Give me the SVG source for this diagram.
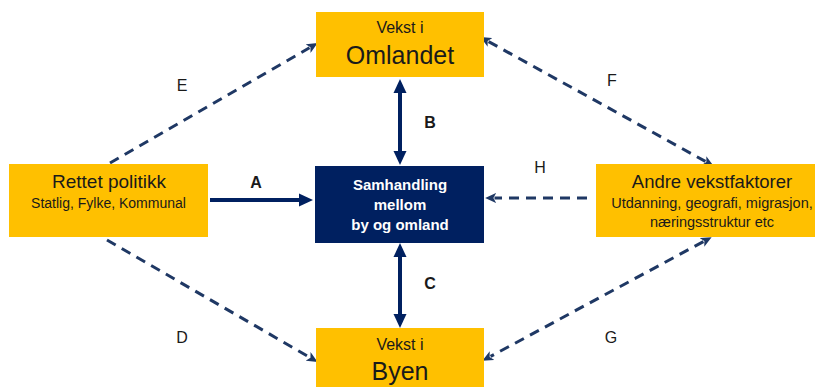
<svg xmlns="http://www.w3.org/2000/svg" width="815" height="387" viewBox="0 0 815 387">
  <style>
    .box { fill: #FFC000; }
    .core { fill: #002060; }
    .t { font-family: "Liberation Sans", Arial, sans-serif; fill: #1a1a1a; text-anchor: middle; }
    .w { font-family: "Liberation Sans", Arial, sans-serif; fill: #ffffff; text-anchor: middle; font-weight: bold; font-size: 15px; }
    .lbl { font-family: "Liberation Sans", Arial, sans-serif; fill: #1a1a1a; text-anchor: middle; font-size: 16px; }
    .lblb { font-weight: bold; }
    .solid { stroke: #002060; stroke-width: 4; fill: none; }
    .dash { stroke: #1F3864; stroke-width: 3; fill: none; stroke-dasharray: 10 7; }
  </style>
  <defs>
    <marker id="headSolid" markerUnits="userSpaceOnUse" markerWidth="14" markerHeight="14" refX="2" refY="6.5" orient="auto-start-reverse" viewBox="0 0 14 13">
      <path d="M0,0 L14,6.5 L0,13 z" fill="#002060"/>
    </marker>
    <marker id="headDash" markerUnits="userSpaceOnUse" markerWidth="11" markerHeight="10" refX="1.5" refY="4.5" orient="auto-start-reverse" viewBox="0 0 10 9">
      <path d="M0,0 L10,4.5 L0,9 L2.5,4.5 z" fill="#1F3864"/>
    </marker>
  </defs>

  <!-- connectors -->
  <g id="connectors">
    <line class="solid" x1="400" y1="91" x2="400" y2="153" marker-start="url(#headSolid)" marker-end="url(#headSolid)"/>
    <line class="solid" x1="400" y1="255" x2="400" y2="316" marker-start="url(#headSolid)" marker-end="url(#headSolid)"/>
    <line class="solid" x1="210" y1="200" x2="301" y2="200" marker-end="url(#headSolid)"/>
    <line class="dash" x1="587" y1="198" x2="494.5" y2="198" marker-end="url(#headDash)"/>
    <line class="dash" x1="110" y1="163" x2="309.5" y2="47.8" marker-end="url(#headDash)"/>
    <line class="dash" x1="488.6" y1="41.6" x2="705.4" y2="161.4" marker-start="url(#headDash)" marker-end="url(#headDash)"/>
    <line class="dash" x1="107" y1="240" x2="309.5" y2="357.2" marker-end="url(#headDash)"/>
    <line class="dash" x1="703.4" y1="241.6" x2="490.6" y2="356.4" marker-start="url(#headDash)" marker-end="url(#headDash)"/>

    <text class="lbl lblb" x="256" y="188">A</text>
    <text class="lbl lblb" x="430" y="128">B</text>
    <text class="lbl lblb" x="430" y="289">C</text>
    <text class="lbl" x="182" y="343">D</text>
    <text class="lbl" x="182" y="91">E</text>
    <text class="lbl" x="612" y="86">F</text>
    <text class="lbl" x="611" y="343">G</text>
    <text class="lbl" x="540" y="173">H</text>
  </g>

  <!-- growth in the surrounding region -->
  <g id="node-omlandet">
    <rect class="box" x="316" y="12" width="168" height="65"/>
    <text class="t" x="400" y="33" font-size="16">Vekst i</text>
    <text class="t" x="400" y="64" font-size="25">Omlandet</text>
  </g>

  <!-- targeted policy -->
  <g id="node-politikk">
    <rect class="box" x="9" y="164" width="199" height="73"/>
    <text class="t" x="109" y="188" font-size="19">Rettet politikk</text>
    <text class="t" x="108.5" y="208" font-size="14">Statlig, Fylke, Kommunal</text>
  </g>

  <!-- interaction between town and region -->
  <g id="node-samhandling">
    <rect class="core" x="315" y="166" width="169" height="77"/>
    <text class="w" x="400" y="190">Samhandling</text>
    <text class="w" x="400" y="210">mellom</text>
    <text class="w" x="400" y="230">by og omland</text>
  </g>

  <!-- other growth factors -->
  <g id="node-vekstfaktorer">
    <rect class="box" x="596" y="164" width="219" height="73"/>
    <text class="t" x="712" y="188" font-size="18.5">Andre vekstfaktorer</text>
    <text class="t" x="712" y="208" font-size="14.5">Utdanning, geografi, migrasjon,</text>
    <text class="t" x="712" y="227" font-size="14.5">næringsstruktur etc</text>
  </g>

  <!-- growth in the town -->
  <g id="node-byen">
    <rect class="box" x="316" y="328" width="168" height="59"/>
    <text class="t" x="400" y="350" font-size="16">Vekst i</text>
    <text class="t" x="400" y="380" font-size="25">Byen</text>
  </g>
</svg>
